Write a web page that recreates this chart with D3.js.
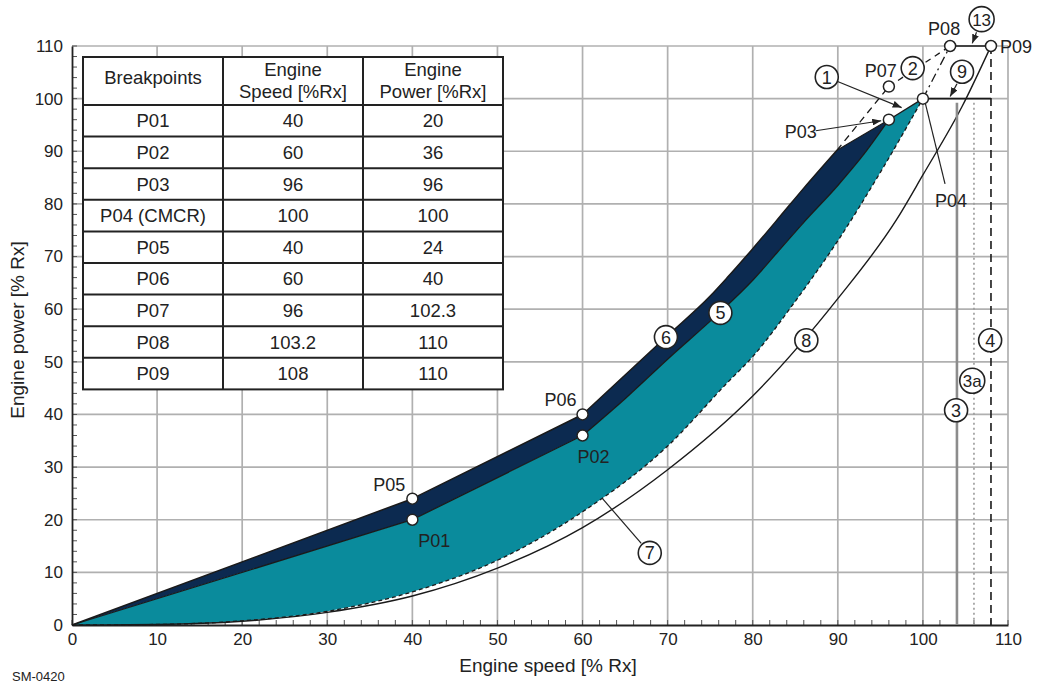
<!DOCTYPE html>
<html>
<head>
<meta charset="utf-8">
<script src="https://cdn.jsdelivr.net/npm/d3@7"></script>
<style>
  body { margin: 0; background: #fff; }
  text { font-family: "Liberation Sans", Arial, sans-serif; fill: #222; }
</style>
</head>
<body>
<div id="chart"></div>
<script>
const width = 1038;
const height = 684;

// breakpoints (table + markers)
const bpNames = ['P01', 'P02', 'P03', 'P04 (CMCR)', 'P05', 'P06', 'P07', 'P08', 'P09'];
const bpSpeed = [40, 60, 96, 100, 40, 60, 96, 103.2, 108];
const bpPower = [20, 36, 96, 100, 24, 40, 102.3, 110, 110];
const bpSpeedText = ['40', '60', '96', '100', '40', '60', '96', '103.2', '108'];
const bpPowerText = ['20', '36', '96', '100', '24', '40', '102.3', '110', '110'];

// curves, [speed, power]
// straight part up to P05/P06 and P01/P02, curved part above
const line6Low = [[0, 0], [40, 24], [60, 40]];
const line6High = [[60, 40], [65, 47.5], [70, 55], [75, 62.5], [77, 66], [80, 71.5],
  [83.2, 77.6], [86, 83], [89.9, 90.2]];
const line5Low = [[0, 0], [40, 20], [60, 36]];
const line5High = [[60, 36], [65, 43], [70, 50.5], [76, 59.2], [80, 65.5], [83, 71],
  [86, 76.5], [90, 83.5], [93, 89.3], [96, 96]];
const line7Lower = [[0, 0], [10, 0.1], [20, 0.8], [30, 2.6], [40, 6.3], [50, 12.3], [60, 21.5],
  [70, 34], [77, 46], [80, 51], [85, 61.5], [90, 73], [95, 86], [100, 100]];
const line8Curve = [[0, 0], [10, 0.1], [20, 0.7], [30, 2.4], [40, 5.5], [50, 10.8], [60, 18.5],
  [70, 29.5], [80, 43.5], [90, 62], [96.9, 77], [100, 85.5], [104.6, 98.5], [108, 110]];

// circled line numbers [label, speed, power]
const lineLabels = [['1', 88.7, 104.1], ['2', 98.8, 105.8], ['13', 106.9, 115.1], ['9', 104.6, 105.1],
  ['5', 76.2, 59.3], ['6', 69.8, 54.7], ['7', 67.9, 13.7], ['8', 86.3, 54.1],
  ['3', 103.9, 40.8], ['3a', 105.8, 46.4], ['4', 107.9, 54.1]];

const ticks = [0, 10, 20, 30, 40, 50, 60, 70, 80, 90, 100, 110];
const minorTicks = d3.range(0, 111, 2);

const x = d3.scaleLinear().domain([0, 110]).range([72, 1008]);
const y = d3.scaleLinear().domain([0, 110]).range([625, 46]);

const svg = d3.select('#chart').append('svg')
  .attr('width', width).attr('height', height);

const defs = svg.append('defs');
defs.append('marker')
  .attr('id', 'arrow').attr('markerUnits', 'userSpaceOnUse')
  .attr('markerWidth', 9).attr('markerHeight', 7)
  .attr('refX', 9).attr('refY', 3.5).attr('orient', 'auto')
  .append('path').attr('d', 'M0,0 L9,3.5 L0,7 z').attr('fill', '#222');

/* grid */
const grid = svg.append('g').attr('stroke', '#b0b0b0').attr('stroke-width', 1.7);
grid.selectAll('.vx').data(ticks.slice(1)).join('line')
  .attr('x1', d => x(d)).attr('x2', d => x(d)).attr('y1', y(0)).attr('y2', y(110));
grid.selectAll('.hy').data(ticks.slice(1)).join('line')
  .attr('x1', x(0)).attr('x2', x(110)).attr('y1', d => y(d)).attr('y2', d => y(d));

/* minor ticks inside the frame */
const tk = svg.append('g').attr('stroke', '#555').attr('stroke-width', 1);
tk.selectAll('.mx').data(minorTicks).join('line')
  .attr('x1', d => x(d)).attr('x2', d => x(d)).attr('y1', y(0)).attr('y2', y(0) - 5);
tk.selectAll('.my').data(minorTicks).join('line')
  .attr('x1', x(0)).attr('x2', x(0) + 5).attr('y1', d => y(d)).attr('y2', d => y(d));

/* axes */
const xAxis = svg.append('g').attr('transform', `translate(0,${y(0)})`)
  .call(d3.axisBottom(x).tickValues(ticks).tickSize(0).tickPadding(8));
const yAxis = svg.append('g').attr('transform', `translate(${x(0)},0)`)
  .call(d3.axisLeft(y).tickValues(ticks).tickSize(0).tickPadding(9));
[xAxis, yAxis].forEach(a => {
  a.select('.domain').attr('stroke', '#222').attr('stroke-width', 1.8);
  a.selectAll('text').style('font-size', '17px').attr('fill', '#222')
    .style('font-family', '"Liberation Sans", Arial, sans-serif');
});

svg.append('text').attr('x', 548).attr('y', 672).attr('text-anchor', 'middle')
  .style('font-size', '19px').text('Engine speed [% Rx]');
svg.append('text').attr('transform', 'translate(24,330) rotate(-90)').attr('text-anchor', 'middle')
  .style('font-size', '19px').text('Engine power [% Rx]');
svg.append('text').attr('x', 12).attr('y', 681).style('font-size', '13px').text('SM-0420');

/* table */
const colX = [83, 223, 363, 503];
const tTop = 57, headH = 48, rowH = 31.6;
const table = svg.append('g');
table.append('rect').attr('x', colX[0]).attr('y', tTop)
  .attr('width', colX[3] - colX[0]).attr('height', headH + rowH * bpNames.length)
  .attr('fill', '#fff').attr('stroke', '#222').attr('stroke-width', 2);
table.selectAll('.rl').data(d3.range(bpNames.length)).join('line')
  .attr('x1', colX[0]).attr('x2', colX[3])
  .attr('y1', i => tTop + headH + rowH * i).attr('y2', i => tTop + headH + rowH * i)
  .attr('stroke', '#222').attr('stroke-width', 2);
table.selectAll('.cl').data([1, 2]).join('line')
  .attr('x1', i => colX[i]).attr('x2', i => colX[i])
  .attr('y1', tTop).attr('y2', tTop + headH + rowH * bpNames.length)
  .attr('stroke', '#222').attr('stroke-width', 2);
const headers = [['Breakpoints'], ['Engine', 'Speed [%Rx]'], ['Engine', 'Power [%Rx]']];
headers.forEach((h, c) => {
  const cx = (colX[c] + colX[c + 1]) / 2;
  h.forEach((s, k) => {
    table.append('text').attr('x', cx)
      .attr('y', tTop + headH / 2 + 6 + (h.length === 2 ? (k === 0 ? -11 : 11) : -3))
      .attr('text-anchor', 'middle').style('font-size', '18.5px').text(s);
  });
});
const rows = bpNames.map((n, i) => [n, bpSpeedText[i], bpPowerText[i]]);
rows.forEach((r, i) => {
  r.forEach((s, c) => {
    table.append('text').attr('x', (colX[c] + colX[c + 1]) / 2)
      .attr('y', tTop + headH + rowH * i + rowH / 2 + 6.5)
      .attr('text-anchor', 'middle').style('font-size', '18.5px').text(s);
  });
});

/* bands */
const mono = d3.curveMonotoneX;
const lin = d3.curveLinear;
const seg = (pts, curve) => d3.line().x(d => x(d[0])).y(d => y(d[1])).curve(curve)(pts);
const joinPaths = (...ps) => ps.map((p, i) => i === 0 ? p : 'L' + p.slice(1)).join('');
const rev = a => a.slice().reverse();
const p03 = [bpSpeed[2], bpPower[2]];
const p04 = [bpSpeed[3], bpPower[3]];
const p07 = [bpSpeed[6], bpPower[6]];
const p08 = [bpSpeed[7], bpPower[7]];
const p09 = [bpSpeed[8], bpPower[8]];
const upperEnd = line6High[line6High.length - 1];

const line6Path = joinPaths(seg(line6Low, lin), seg(line6High, mono));
const line5Path = joinPaths(seg(line5Low, lin), seg(line5High, mono));

svg.append('path')
  .attr('d', joinPaths(line6Path, seg([upperEnd, p03], lin),
    seg(rev(line5High), mono), seg(rev(line5Low), lin)) + 'Z')
  .attr('fill', '#0c2a50');
svg.append('path')
  .attr('d', joinPaths(line5Path, seg([p03, p04], lin), seg(rev(line7Lower), mono)) + 'Z')
  .attr('fill', '#0a8b9c');

const stroke = (d, w, dash) => svg.append('path').attr('d', d).attr('fill', 'none')
  .attr('stroke', '#1a1a1a').attr('stroke-width', w).attr('stroke-dasharray', dash || null)
  .attr('stroke-linejoin', 'round');

stroke(line6Path, 1.5);
stroke(seg([upperEnd, p03], lin), 1.2);
stroke(line5Path, 1.3);
stroke(seg([p03, p04], lin), 1.3);
stroke(seg(line7Lower, mono), 1.3, '4,3');
stroke(seg(line8Curve, mono), 1.4);
stroke(seg([upperEnd, p07], lin), 1.3, '7,5');
stroke(seg([p07, p08], lin), 1.3, '6,5');
stroke(seg([p04, p08], lin), 1.3, '9,4,2,4');
stroke(seg([p08, p09], lin), 1.6);
stroke(seg([p04, [108, 100]], lin), 1.8);

/* vertical limit lines 3, 3a, 4 */
svg.append('line').attr('x1', x(104)).attr('x2', x(104)).attr('y1', y(99.2)).attr('y2', y(0))
  .attr('stroke', '#8c8c8c').attr('stroke-width', 2.6);
svg.append('line').attr('x1', x(106)).attr('x2', x(106)).attr('y1', y(99.2)).attr('y2', y(0))
  .attr('stroke', '#9a9a9a').attr('stroke-width', 1.6).attr('stroke-dasharray', '2,3');
svg.append('line').attr('x1', x(108)).attr('x2', x(108)).attr('y1', y(110)).attr('y2', y(0))
  .attr('stroke', '#1a1a1a').attr('stroke-width', 1.6).attr('stroke-dasharray', '8,5');

/* pointer lines */
const pointer = (a, b, arrow) => svg.append('line')
  .attr('x1', x(a[0])).attr('y1', y(a[1])).attr('x2', x(b[0])).attr('y2', y(b[1]))
  .attr('stroke', '#222').attr('stroke-width', 1.2)
  .attr('marker-end', arrow ? 'url(#arrow)' : null);
pointer([89.9, 103.3], [97.5, 98.3], true);      // 1
pointer([106.3, 112.6], [105.8, 110.5], true);   // 13
pointer([104, 102.8], [103.2, 100.4], true);     // 9
pointer([66.9, 15.5], [62.3, 24.1], false);      // 7
pointer([87.4, 93.9], [95.1, 95.8], true);       // P03
pointer([102.6, 83.8], [100.3, 99.0], false);    // P04

/* breakpoint markers */
const markerIdx = [0, 1, 2, 3, 4, 5, 6, 7, 8];
svg.selectAll('.bp').data(markerIdx).join('circle')
  .attr('cx', i => x(bpSpeed[i])).attr('cy', i => y(bpPower[i])).attr('r', 5.5)
  .attr('fill', '#fff').attr('stroke', '#222').attr('stroke-width', 1.5);

const ptLabels = [
  ['P01', 0, 22, 27, 'middle'], ['P02', 1, 11, 27, 'middle'], ['P03', 2, -72, 18, 'end'],
  ['P04', 3, 28, 108, 'middle'], ['P05', 4, -23, -8, 'middle'], ['P06', 5, -22, -8, 'middle'],
  ['P07', 6, -8, -10, 'middle'], ['P08', 7, -6, -11, 'middle'], ['P09', 8, 9, 7, 'start']
];
svg.selectAll('.pl').data(ptLabels).join('text')
  .attr('x', d => x(bpSpeed[d[1]]) + d[2]).attr('y', d => y(bpPower[d[1]]) + d[3])
  .attr('text-anchor', d => d[4]).style('font-size', '18px').text(d => d[0]);

/* circled numbers */
const lbl = svg.selectAll('.ll').data(lineLabels).join('g')
  .attr('transform', d => `translate(${x(d[1])},${y(d[2])})`);
lbl.append('circle').attr('r', d => d[0].length > 1 ? 12.5 : 11.5)
  .attr('fill', '#fff').attr('stroke', '#222').attr('stroke-width', 1.6);
lbl.append('text').attr('text-anchor', 'middle').attr('dy', 6.5)
  .style('font-size', d => d[0].length > 1 ? '17px' : '18px').text(d => d[0]);
</script>
</body>
</html>
